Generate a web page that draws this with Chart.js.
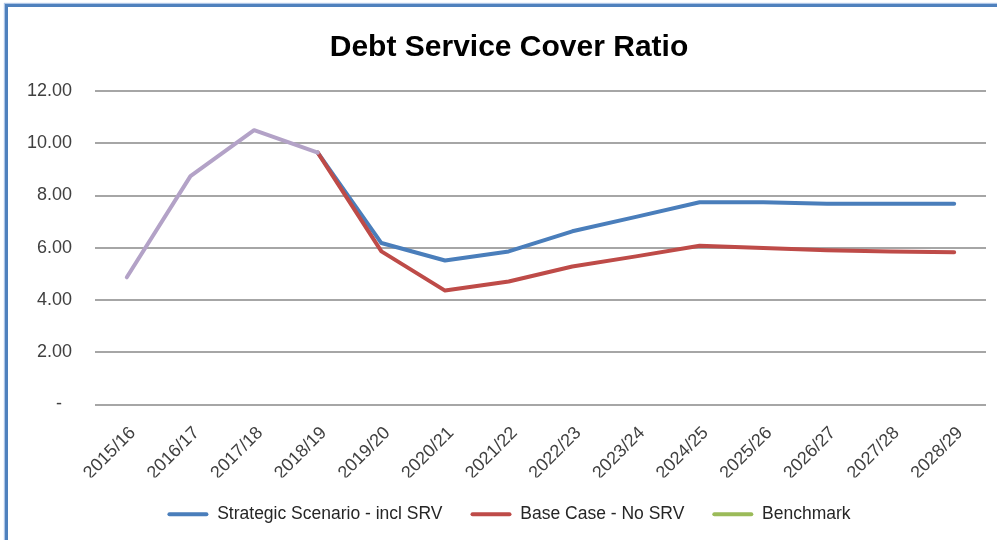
<!DOCTYPE html>
<html>
<head>
<meta charset="utf-8">
<title>Debt Service Cover Ratio</title>
<script src="https://cdn.jsdelivr.net/npm/chart.js@4.4.1/dist/chart.umd.min.js"></script>
<style>
  html, body { margin: 0; padding: 0; background: #fff; overflow: hidden; width: 997px; height: 540px; }
  #frame {
    position: absolute; left: 5px; top: 4px; width: 1030px; height: 560px;
    border-left: 3px solid #4f81bd; border-top: 3px solid #4f81bd;
    box-shadow: -1px -1px 1px rgba(120,160,215,0.6);
  }
  #frame canvas { position: absolute; left: 0; top: 0; }
</style>
</head>
<body>
<div id="frame"><canvas id="dscr" width="1010" height="533"></canvas></div>
<script>
// Financial years on the category axis
const years = ['2015/16', '2016/17', '2017/18', '2018/19', '2019/20', '2020/21', '2021/22',
               '2022/23', '2023/24', '2024/25', '2025/26', '2026/27', '2027/28', '2028/29'];

// Historical ratio, shared by both scenarios up to 2018/19
const actual    = [4.87, 8.74, 10.50, 9.64, null, null, null, null, null, null, null, null, null, null];
// Forecast scenarios
const strategic = [null, null, null, 9.64, 6.18, 5.51, 5.86, 6.63, 7.18, 7.74, 7.74, 7.68, 7.68, 7.68];
const baseCase  = [null, null, null, 9.64, 5.86, 4.36, 4.71, 5.28, 5.67, 6.08, 5.99, 5.90, 5.86, 5.83];
const benchmark = [null, null, null, null, null, null, null, null, null, null, null, null, null, null];

// Value axis range
const yMin = 0, yMax = 12, yStep = 2;

const COLORS = { actual: '#b3a2c7', strategic: '#4a7ebb', base: '#be4b48', bench: '#9bbb59' };
const FONT = "'Liberation Sans', Arial, sans-serif";
const legendRank = { 'Strategic Scenario - incl SRV': 0, 'Base Case - No SRV': 1, 'Benchmark': 2 };

function lineSet(label, data, color) {
  return {
    label, data,
    borderColor: color, backgroundColor: color,
    borderWidth: 4, pointRadius: 0, pointHoverRadius: 0,
    tension: 0, borderCapStyle: 'round', borderJoinStyle: 'round',
    spanGaps: false, fill: false
  };
}

new Chart(document.getElementById('dscr'), {
  type: 'line',
  data: {
    labels: years,
    datasets: [
      lineSet('Actual', actual, COLORS.actual),
      lineSet('Base Case - No SRV', baseCase, COLORS.base),
      lineSet('Strategic Scenario - incl SRV', strategic, COLORS.strategic),
      lineSet('Benchmark', benchmark, COLORS.bench)
    ]
  },
  options: {
    responsive: false,
    animation: false,
    devicePixelRatio: 1,
    layout: { padding: { top: 0, left: 0, right: 8, bottom: 7 } },
    plugins: {
      tooltip: { enabled: false },
      title: {
        display: true,
        text: 'Debt Service Cover Ratio',
        color: '#000',
        font: { family: FONT, size: 30, weight: 'bold' },
        padding: { top: 23, bottom: 25 }
      },
      legend: {
        position: 'bottom',
        labels: {
          boxWidth: 41, boxHeight: 4, padding: 28,
          color: '#262626',
          font: { family: FONT, size: 17.5 },
          filter: (item) => item.text !== 'Actual',
          sort: (a, b) => legendRank[a.text] - legendRank[b.text],
          generateLabels: (chart) =>
            Chart.defaults.plugins.legend.labels.generateLabels(chart)
              .map(l => Object.assign(l, { lineWidth: 0, borderRadius: 2 }))
        }
      }
    },
    scales: {
      x: {
        offset: true,
        grid: { display: false },
        border: { display: false },
        ticks: {
          autoSkip: false, maxRotation: 45, minRotation: 45,
          color: '#404040', font: { family: FONT, size: 18 },
          padding: 10, labelOffset: 6
        },
        afterFit: (s) => { s.height = 73; }
      },
      y: {
        min: yMin, max: yMax,
        grid: { color: '#a6a6a6', lineWidth: 2, drawTicks: false },
        border: { display: false },
        ticks: {
          stepSize: yStep, padding: 23,
          color: '#404040', font: { family: FONT, size: 18 },
          callback: (v) => v === 0 ? '-  ' : Number(v).toFixed(2)
        },
        afterFit: (s) => { s.width = 87; }
      },
      yRight: {
        position: 'right',
        grid: { display: false },
        border: { display: false },
        ticks: { display: false },
        afterFit: (s) => { s.width = 24; }
      }
    }
  }
});
</script>
</body>
</html>
